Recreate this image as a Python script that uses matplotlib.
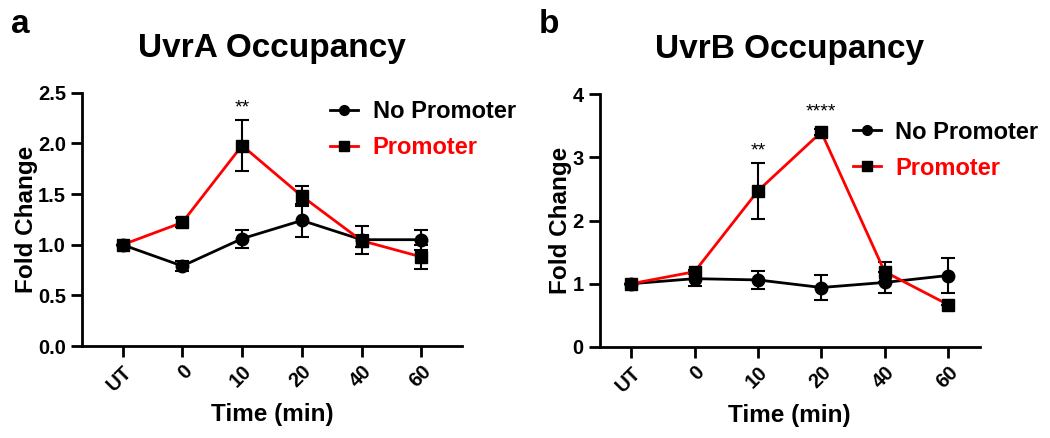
import matplotlib.pyplot as plt
from matplotlib.lines import Line2D
import numpy as np

plt.rcParams.update({
    "font.family": ["Liberation Sans", "DejaVu Sans"],
    "font.weight": "bold",
    "axes.linewidth": 2,
})

# Data
times = ['UT', '0', '10', '20', '40', '60']

a_nop = [1.00, 0.79, 1.06, 1.24, 1.05, 1.05]
a_nop_err = [0.0, 0.05, 0.09, 0.16, 0.14, 0.10]
a_pro = [1.00, 1.22, 1.98, 1.48, 1.04, 0.88]
a_pro_err = [0.0, 0.04, 0.25, 0.10, 0.06, 0.12]

b_nop = [1.00, 1.08, 1.06, 0.94, 1.02, 1.13]
b_nop_err = [0.0, 0.11, 0.14, 0.20, 0.17, 0.28]
b_pro = [1.00, 1.19, 2.47, 3.40, 1.19, 0.67]
b_pro_err = [0.0, 0.03, 0.44, 0.05, 0.16, 0.0]

a_stars = {2: ('**', 2.35)}
b_stars = {2: ('**', 3.1), 3: ('****', 3.72)}

RED = '#ff0000'

fig = plt.figure(figsize=(10.5, 4.38), dpi=100)
ax_a = fig.add_axes([0.078, 0.21, 0.362, 0.578])
ax_b = fig.add_axes([0.571, 0.208, 0.362, 0.577])


def draw(ax, nop, nop_err, pro, pro_err, stars, ymax, yticks, yfmt, xpad, title, leg_anchor):
    x = np.arange(len(times))
    ax.errorbar(x, nop, yerr=nop_err, color='black', lw=2, marker='o', ms=9,
                capsize=5, elinewidth=1.5, capthick=1.5, zorder=3)
    ax.errorbar(x, pro, yerr=pro_err, color=RED, lw=2, marker='s', ms=9,
                mfc='black', mec='black', ecolor='black',
                capsize=5, elinewidth=1.5, capthick=1.5, zorder=4)
    for i, (s, y) in stars.items():
        ax.text(i, y, s, ha='center', va='center', fontsize=14, fontweight='normal')
    ax.set_xlim(-xpad, len(times) - 1 + xpad)
    ax.set_ylim(0, ymax)
    ax.set_yticks(yticks)
    ax.set_yticklabels([yfmt.format(v) for v in yticks], fontsize=14.5)
    ax.set_xticks(x)
    ax.set_xticklabels(times, rotation=45, ha='right', rotation_mode='anchor', fontsize=14.5)
    ax.tick_params(width=2, length=8, direction='out')
    ax.spines['top'].set_visible(False)
    ax.spines['right'].set_visible(False)
    ax.set_ylabel('Fold Change', fontsize=17.5, fontweight='bold', labelpad=0)
    ax.set_xlabel('Time (min)', fontsize=17.5, fontweight='bold', labelpad=6)
    ax.set_title(title, fontsize=24, fontweight='bold', pad=26)
    handles = [
        Line2D([], [], color='black', lw=2, marker='o', ms=7),
        Line2D([], [], color=RED, lw=2, marker='s', ms=7, mfc='black', mec='black'),
    ]
    leg = ax.legend(handles, ['No Promoter', 'Promoter'], loc='center left',
                    bbox_to_anchor=leg_anchor, frameon=False, fontsize=17,
                    handlelength=1.2, handletextpad=0.6, labelspacing=0.55,
                    borderpad=0, borderaxespad=0)
    for t, c in zip(leg.get_texts(), ['black', RED]):
        t.set_color(c)


draw(ax_a, a_nop, a_nop_err, a_pro, a_pro_err, a_stars, 2.5,
     [0.0, 0.5, 1.0, 1.5, 2.0, 2.5], '{:.1f}', 0.68, 'UvrA Occupancy', (0.653, 0.854))
draw(ax_b, b_nop, b_nop_err, b_pro, b_pro_err, b_stars, 4,
     [0, 1, 2, 3, 4], '{:d}', 0.5, 'UvrB Occupancy', (0.666, 0.779))

fig.text(0.01, 0.945, 'a', fontsize=24, fontweight='bold', va='center')
fig.text(0.513, 0.945, 'b', fontsize=24, fontweight='bold', va='center')

fig.savefig('out.png', dpi=100)
